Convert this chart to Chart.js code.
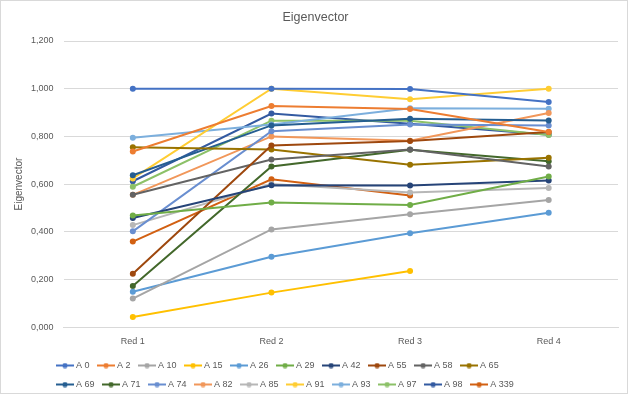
<!DOCTYPE html>
<html>
<head>
<meta charset="utf-8">
<script src="https://cdn.jsdelivr.net/npm/chart.js@4"></script>
<style>
  body { margin: 0; background: #fff; }
  #box { position: absolute; left: 0; top: 0; width: 628px; height: 394px; box-sizing: border-box; border: 1px solid #d9d9d9; }
  canvas { display: block; }
</style>
</head>
<body>
<div id="box"><canvas id="chart" width="626" height="392"></canvas></div>
<script>
// categories + tick labels
const categories = ["Red 1", "Red 2", "Red 3", "Red 4"];
const yTicks = [0, 0.2, 0.4, 0.6, 0.8, 1.0, 1.2];

// series values
const a0 = [1.000, 1.000, 0.999, 0.944];
const a2 = [0.737, 0.927, 0.915, 0.818];
const a10 = [0.120, 0.410, 0.474, 0.533];
const a15 = [0.043, 0.145, 0.236, null];
const a26 = [0.149, 0.295, 0.394, 0.480];
const a29 = [0.468, 0.523, 0.512, 0.632];
const a42 = [0.458, 0.595, 0.594, 0.615];
const a55 = [0.224, 0.762, 0.781, 0.818];
const a58 = [0.555, 0.703, 0.745, 0.674];
const a65 = [0.754, 0.745, 0.681, 0.710];
const a69 = [0.637, 0.846, 0.874, 0.867];
const a71 = [0.173, 0.674, 0.744, 0.696];
const a74 = [0.402, 0.822, 0.850, 0.846];
const a82 = [0.555, 0.800, 0.782, 0.898];
const a85 = [0.428, 0.600, 0.565, 0.584];
const a91 = [0.624, 1.000, 0.956, 1.000];
const a93 = [0.794, 0.850, 0.918, 0.916];
const a97 = [0.589, 0.866, 0.866, 0.806];
const a98 = [0.612, 0.896, 0.853, 0.807];
const a339 = [0.359, 0.620, 0.552, null];

const seriesNames = ["A 0", "A 2", "A 10", "A 15", "A 26", "A 29", "A 42", "A 55", "A 58", "A 65",
                     "A 69", "A 71", "A 74", "A 82", "A 85", "A 91", "A 93", "A 97", "A 98", "A 339"];
const seriesValues = [a0, a2, a10, a15, a26, a29, a42, a55, a58, a65,
                      a69, a71, a74, a82, a85, a91, a93, a97, a98, a339];
const colors = ["#4472C4", "#ED7D31", "#A5A5A5", "#FFC000", "#5B9BD5", "#70AD47", "#264478", "#9E480E", "#636363", "#997300",
                "#255E91", "#43682B", "#698ED0", "#F1975A", "#B7B7B7", "#FFCD33", "#7CAFDD", "#8CC168", "#335AA1", "#D26012"];

const txt = "#595959";
const fontFam = "'Liberation Sans', Arial, sans-serif";

// little line+dot swatch for the legend
function swatch(col) {
  let c = document.createElement("canvas");
  c.width = 18; c.height = 6;
  let g = c.getContext("2d");
  g.strokeStyle = col; g.lineWidth = 2;
  g.beginPath(); g.moveTo(0, 3); g.lineTo(18, 3); g.stroke();
  g.fillStyle = col;
  g.beginPath(); g.arc(9, 3, 2.6, 0, Math.PI * 2); g.fill();
  return c;
}

// excel puts the legend block left of centre and wraps after 10 entries
const legendSpot = {
  id: "legendSpot",
  afterLayout(ch) {
    let lg = ch.legend;
    lg.left = 47.5;
    lg.right = lg.left + 485;
    lg.top += 3;
    lg.bottom += 3;
  }
};

let datasets = seriesNames.map((name, i) => {
  return {
    label: name,
    data: seriesValues[i],
    borderColor: colors[i],
    backgroundColor: colors[i],
    borderWidth: 2,
    pointRadius: 3,
    pointHoverRadius: 3,
    pointBorderWidth: 0,
    fill: false,
    tension: 0,
    spanGaps: false
  };
});

let chart = new Chart(document.getElementById("chart"), {
  type: "line",
  data: { labels: categories, datasets: datasets },
  plugins: [legendSpot],
  options: {
    responsive: false,
    animation: false,
    layout: { padding: { top: 0, right: 9, bottom: -3, left: 12 } },
    plugins: {
      title: {
        display: true,
        text: "Eigenvector",
        color: txt,
        font: { family: fontFam, size: 12.5, weight: "normal" },
        padding: { top: 9, bottom: 16 }
      },
      legend: {
        position: "bottom",
        fullSize: false,
        align: "start",
        labels: {
          color: txt,
          font: { family: fontFam, size: 9 },
          usePointStyle: true,
          pointStyleWidth: 13,
          boxHeight: 6,
          padding: 10,
          generateLabels(ch) {
            return ch.data.datasets.map((ds, i) => ({
              text: ds.label,
              fillStyle: ds.borderColor,
              strokeStyle: ds.borderColor,
              fontColor: txt,
              lineWidth: 0,
              pointStyle: swatch(ds.borderColor),
              datasetIndex: i
            }));
          }
        }
      },
      tooltip: { enabled: false }
    },
    scales: {
      x: {
        offset: true,
        grid: { display: false },
        border: { color: "#d9d9d9" },
        ticks: { color: txt, font: { family: fontFam, size: 9 }, padding: 1 }
      },
      y: {
        min: 0,
        max: 1.2,
        afterBuildTicks(axis) { axis.ticks = yTicks.map(v => ({ value: v })); },
        grid: { color: "#d9d9d9", drawTicks: false },
        border: { display: false },
        ticks: {
          color: txt,
          font: { family: fontFam, size: 9 },
          padding: 10,
          callback: v => Number(v).toFixed(3).replace(".", ",")
        },
        title: {
          display: true,
          text: "Eigenvector",
          color: txt,
          font: { family: fontFam, size: 10 },
          padding: { top: 0, bottom: -4 }
        }
      }
    }
  }
});
</script>
</body>
</html>
